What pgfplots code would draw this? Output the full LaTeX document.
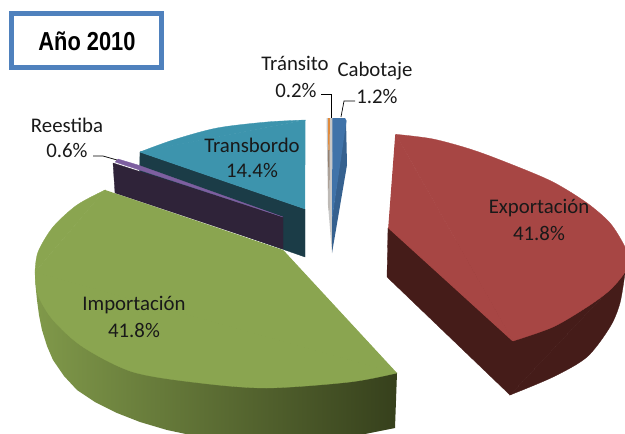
\documentclass[border=0pt]{standalone}
\usepackage{fontspec}
\setmainfont{Carlito}
\newfontfamily\titlefont{Liberation Sans}[BoldFont={Liberation Sans Bold}]
\usepackage{pgfplots}
\pgfplotsset{compat=1.18}
\definecolor{ExpT}{HTML}{A74644}
\definecolor{ExpS}{HTML}{451C19}
\definecolor{ImpT}{HTML}{8AA550}
\definecolor{ImpL}{HTML}{80994A}
\definecolor{ImpR}{HTML}{36401C}
\definecolor{TraT}{HTML}{3D94AD}
\definecolor{TraS}{HTML}{1B3C47}
\definecolor{ReeT}{HTML}{7D5FA0}
\definecolor{ReeS}{HTML}{2F2339}
\definecolor{CabT}{HTML}{4073A9}
\definecolor{CabS}{HTML}{36618F}
\definecolor{TrnT}{HTML}{E08A3C}
\definecolor{TrnD}{HTML}{7A5A40}
\definecolor{Gry}{HTML}{C8C8C8}
\definecolor{Box}{HTML}{4F81BD}
\tikzset{lab/.style={font=\fontsize{20.8}{24}\selectfont, align=center, text=black!90, inner sep=0pt}}
\begin{document}
\begin{tikzpicture}
\begin{axis}[
  name=a,
  scale only axis, width=625pt, height=434pt,
  xmin=0, xmax=625, ymin=0, ymax=434, y dir=reverse,
  hide axis, clip=true,
  every axis plot/.append style={forget plot},
]
% Title box
\addplot[draw=Box, line width=5pt, fill=white] coordinates {(11.5,13.5)(161.5,13.5)(161.5,67.5)(11.5,67.5)} --cycle;
% Transbordo
\addplot[fill=TraS, draw=TraS, line width=0.3pt] coordinates {(140,152)(305,209)(305,257)(139,199)} --cycle;
\addplot[smooth, fill=TraT, draw=TraT, line width=0.3pt] coordinates {(140,152)(173,140)(217,128)(267,122)(305.5,120)} --cycle;
\addplot[fill=TraT, draw=TraT, line width=1pt, line join=round] coordinates {(140.5,152)(305,120.5)(304.5,208.5)} --cycle;
% Reestiba
\addplot[fill=ReeS, draw=ReeS, line width=0.3pt] coordinates {(113,163)(283,217)(283,249)(115,193)} --cycle;
\addplot[fill=ReeT, draw=ReeT, line width=0.3pt] coordinates {(115,162)(118,159)(138,165)(283,217)} --cycle;
% Importacion
\addplot[draw=none, left color=ImpL, right color=ImpR] coordinates {(35,272)(35.5,285)(37,300)(39,315)(42,330)(47,346)(53,360)(64,376)(77,390)(95,402)(117,413)(140,422)(167,430)(200,437)(230,441)(290,445)(345,438)(395,428)(397,373)} --cycle;
\addplot[smooth, fill=ImpT, draw=ImpT, line width=0.3pt] coordinates {(105,190)(77,205)(53,227)(38,252)(35,272)} --cycle;
\addplot[smooth, fill=ImpT, draw=ImpT, line width=0.3pt] coordinates {(35,272)(38,295)(53,320)(83,347)(133,372)(200,383)(267,388)(350,382)(397,373)} --cycle;
\addplot[fill=ImpT, draw=ImpT, line width=1pt, line join=round] coordinates {(105,190.5)(283,250.5)(396,372.7)(35.5,272)} --cycle;
% Exportacion
\addplot[fill=ExpS, draw=ExpS, line width=0.3pt] coordinates {(388,228)(387,277)(510,395)(625,273)} --cycle;
\addplot[smooth, fill=ExpS, draw=ExpS, line width=0.3pt] coordinates {(510,395)(553,377)(587,357)(610,327)(620,303)(625,273)} --cycle;
\addplot[smooth, fill=ExpT, draw=ExpT, line width=0.3pt] coordinates {(395.7,134.3)(433,139)(473,150)(513,165)(553,182)(587,203)(610,223)(624,245)(628,258)(625,272)(610,290)(587,307)(553,327)(513,341)} --cycle;
\addplot[fill=ExpT, draw=ExpT, line width=1pt, line join=round] coordinates {(395.7,135)(512.5,340.5)(388.7,228)} --cycle;
% Transito and Cabotaje
\addplot[fill=Gry, draw=none] coordinates {(326.5,118)(333,118)(332,253)(328,205)} --cycle;
\addplot[fill=CabS, draw=none] coordinates {(346,120)(347,165)(332,253)(332,218)} --cycle;
\addplot[fill=CabT, draw=none] coordinates {(332.5,118)(345,118)(346.5,121)(332,220)} --cycle;
\addplot[fill=TrnD, draw=none] coordinates {(328.3,150)(329.5,150)(329,210)} --cycle;
\addplot[fill=TrnT, draw=none] coordinates {(328,118)(330,118)(329.5,150)(328.3,150)} --cycle;
% Leaders
\addplot[black, line width=0.7pt] coordinates {(321,94)(331,94)(331,118)};
\addplot[black, line width=0.7pt] coordinates {(355,101)(344,101)(341,117)};
\addplot[black, line width=0.7pt] coordinates {(93,156)(103,156)(117,160)};
% Text
\node[inner sep=0pt] at (axis cs:87,41) {\scalebox{0.84}[1]{\fontsize{26}{30}\selectfont\titlefont\bfseries Año 2010}};
\node[lab] at (axis cs:295,63) {Tránsito};
\node[lab] at (axis cs:296,90) {0.2\%};
\node[lab] at (axis cs:375,71) {Cabotaje};
\node[lab] at (axis cs:377,96) {1.2\%};
\node[lab] at (axis cs:67,125) {Reestiba};
\node[lab] at (axis cs:67,150) {0.6\%};
\node[lab] at (axis cs:252,145) {Transbordo};
\node[lab] at (axis cs:252,170) {14.4\%};
\node[lab] at (axis cs:539,208) {Exportación};
\node[lab] at (axis cs:539,233) {41.8\%};
\node[lab] at (axis cs:134,305) {Importación};
\node[lab] at (axis cs:134,330) {41.8\%};
\end{axis}
\path[use as bounding box] (a.south west) rectangle (a.north east);
\end{tikzpicture}
\end{document}
